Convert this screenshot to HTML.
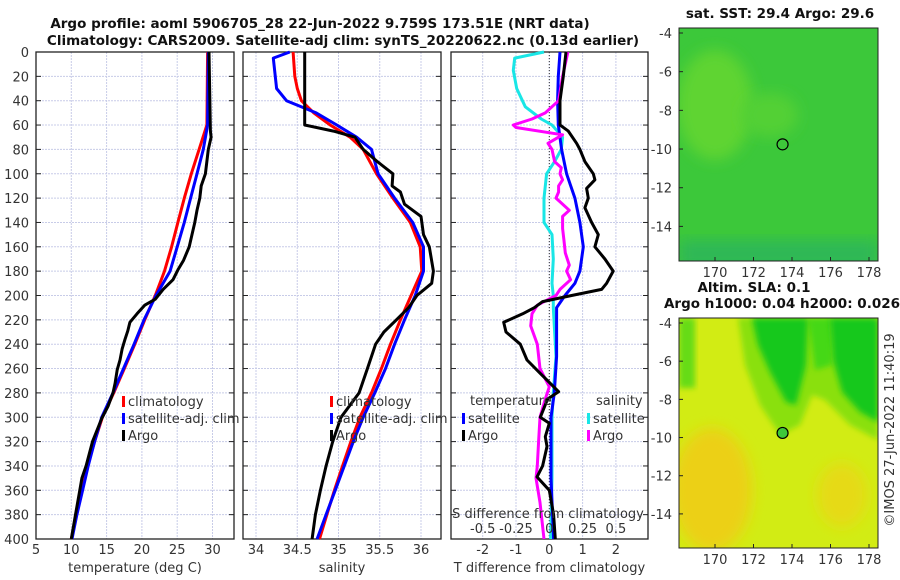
<!DOCTYPE html>
<html><head><meta charset="utf-8"><style>
body{margin:0;background:#fff;}
svg{display:block;font-family:"DejaVu Sans","Liberation Sans",sans-serif;}
.t{font-size:13px;fill:#333;}
.b{font-size:13.5px;font-weight:bold;fill:#111;}
</style></head><body>
<svg id="c" width="900" height="580" xmlns="http://www.w3.org/2000/svg">
<defs>
<filter id="bl" x="-20%" y="-20%" width="140%" height="140%"><feGaussianBlur stdDeviation="7"/></filter>
<filter id="bl2" x="-20%" y="-20%" width="140%" height="140%"><feGaussianBlur stdDeviation="3"/></filter>
<clipPath id="cTop"><rect x="679" y="28" width="199" height="233"/></clipPath>
<clipPath id="cBot"><rect x="679" y="318" width="199" height="230"/></clipPath>
</defs>
<text class="b" x="320" y="28" text-anchor="middle">Argo profile: aoml 5906705_28 22-Jun-2022 9.759S 173.51E (NRT data)</text>
<text class="b" x="343" y="45" text-anchor="middle">Climatology: CARS2009. Satellite-adj clim: synTS_20220622.nc (0.13d earlier)</text>
<g id="p1"></g>
<g id="p2"></g>
<g id="p3"></g>
<g clip-path="url(#cTop)">
  <rect x="679" y="28" width="199" height="233" fill="#3cc83a"/>
  <ellipse cx="715" cy="105" rx="38" ry="55" fill="#5ed432" filter="url(#bl)"/>
  <ellipse cx="770" cy="115" rx="28" ry="22" fill="#52d034" filter="url(#bl)"/>
  <rect x="679" y="240" width="199" height="28" fill="#2eb856" filter="url(#bl)"/>
</g>
<g clip-path="url(#cBot)">
  <rect x="679" y="318" width="199" height="230" fill="#d2ec14"/>
  <ellipse cx="712" cy="490" rx="40" ry="62" fill="#ecd016" filter="url(#bl)"/>
  <ellipse cx="842" cy="495" rx="25" ry="32" fill="#e6da16" filter="url(#bl)"/>
  <rect x="679" y="318" width="16" height="70" fill="#66dc14" filter="url(#bl2)"/>
  <polygon points="738,318 878,318 878,440 850,425 825,400 812,395 800,425 780,435 760,405 745,365" fill="#8ae010" filter="url(#bl2)"/>
  <polygon points="808,318 832,318 832,365 815,370" fill="#44d818" filter="url(#bl2)"/>
  <polygon points="752,318 808,318 806,365 796,405 786,402 770,372 758,345" fill="#12c81e" filter="url(#bl2)"/>
  <polygon points="830,318 878,318 878,422 860,412 842,392 833,360" fill="#12c81e" filter="url(#bl2)"/>
</g>
<g id="maps"></g>
<text class="t" transform="translate(894,430) rotate(-90)" text-anchor="middle">©IMOS 27-Jun-2022 11:40:19</text>
</svg>
<script>
// ---- data ----
const tClimDepth=[0,60,80,100,120,140,160,180,200,220,240,260,280,300,320,340,360,380,400];
const tClim=[29.3,29.2,28.1,27.0,26.0,25.1,24.2,23.2,21.9,20.4,19.0,17.5,16.0,14.4,13.3,12.3,11.5,10.7,10.0];
const tSat=[29.4,29.3,28.7,27.8,26.9,26.0,25.0,24.0,22.0,20.3,18.9,17.4,15.9,14.3,13.3,12.4,11.6,10.8,10.1];
const tArgoDepth=[0,65,70,80,100,110,120,130,140,150,160,171,179,187,195,203,208,215,222,229,236,244,253,261,272,280,291,301,320,340,350,360,380,400];
const tArgo=[29.5,29.7,29.8,29.4,29.0,28.4,28.2,27.8,27.5,27.1,26.7,25.9,25.1,24.4,23.0,21.9,20.4,19.3,18.3,18.0,17.6,17.2,16.9,16.5,16.2,15.9,15.2,14.3,13.0,12.1,11.5,11.2,10.6,10.0];
const sClimDepth=[0,20,30,40,50,60,70,80,100,120,140,160,180,200,220,240,260,280,300,320,340,360,380,400];
const sClim=[34.45,34.47,34.5,34.55,34.7,34.9,35.14,35.3,35.46,35.66,35.87,35.99,36.01,35.88,35.75,35.63,35.52,35.4,35.26,35.15,35.05,34.95,34.86,34.77];
const sSatDepth=[0,5,30,40,50,60,70,80,100,120,140,160,180,200,220,240,260,280,300,320,340,360,380,400];
const sSat=[34.41,34.21,34.25,34.37,34.73,34.98,35.22,35.4,35.48,35.68,35.9,36.03,36.03,35.93,35.8,35.68,35.57,35.44,35.3,35.18,35.07,34.96,34.85,34.74];
const sArgoDepth=[0,60,65,70,80,90,100,110,115,125,135,150,160,180,190,200,210,220,230,240,260,280,300,320,340,360,380,400];
const sArgo=[34.59,34.59,34.94,35.2,35.3,35.47,35.66,35.65,35.75,35.8,36.0,36.03,36.1,36.15,36.13,35.95,35.85,35.7,35.55,35.45,35.35,35.25,35.03,34.93,34.85,34.78,34.72,34.68];
const dTArgoDepth=[0,20,40,60,65,75,80,90,100,105,112,120,128,140,150,160,170,180,190,195,200,205,210,215,222,230,240,253,264,279,285,300,305,316,324,340,349,360,380,400];
const dTArgo=[0.5,0.42,0.32,0.32,0.57,0.82,0.92,1.07,1.32,1.37,1.12,1.17,1.07,1.27,1.47,1.37,1.67,1.92,1.72,1.57,0.67,-0.2,-0.45,-0.8,-1.37,-1.3,-0.87,-0.67,-0.27,0.28,-0.05,-0.27,0,-0.12,-0.07,-0.2,-0.37,0,0.13,0.18];
const dTSatDepth=[0,20,40,60,80,100,120,140,160,180,190,200,210,250,280,300,350,400];
const dTSat=[0.32,0.27,0.25,0.27,0.37,0.52,0.77,0.92,1.02,0.92,0.77,0.47,0.22,0.22,0.15,0.05,0.05,0.13];
const dSSatDepth=[0,5,15,30,45,55,60,70,80,90,100,120,140,150,170,190,200,210,250,280,300,350,400];
const dSSat=[-0.04,-0.26,-0.27,-0.245,-0.18,-0.06,0.02,0.1,0.09,0.04,-0.02,-0.04,-0.04,0.02,0.03,0.02,0.03,0.03,0.05,0.03,0.02,0.02,0.01];
const dSArgoDepth=[0,20,40,50,55,60,62,68,75,80,90,95,100,105,110,115,120,130,135,145,155,165,175,180,187,195,200,208,215,225,240,260,275,285,300,320,340,350,370,400];
const dSArgo=[0.14,0.1,0.07,-0.03,-0.13,-0.27,-0.25,0.1,-0.01,0.02,0.04,0.09,0.08,0.1,0.07,0.07,0.05,0.15,0.1,0.1,0.11,0.12,0.15,0.13,0.16,0.08,0.05,-0.09,-0.13,-0.14,-0.09,-0.07,0,-0.03,-0.07,-0.08,-0.09,-0.1,-0.07,-0.04];
const tTicks=[5,10,15,20,25,30];
const sTicks=[34,34.5,35,35.5,36];
const dTTicks=[-2,-1,0,1,2];
const dSTicks=[-0.5,-0.25,0,0.25,0.5];
const depthTicks=[0,20,40,60,80,100,120,140,160,180,200,220,240,260,280,300,320,340,360,380,400];
const lonTicks=[170,172,174,176,178];
const latTicks=[-4,-6,-8,-10,-12,-14];
const argoLon=173.51, argoLat=-9.759;

const NS='http://www.w3.org/2000/svg';
function el(tag,attrs,parent,txt){const e=document.createElementNS(NS,tag);for(const k in attrs)e.setAttribute(k,attrs[k]);if(txt!==undefined)e.textContent=txt;parent.appendChild(e);return e;}
const Y0=52,Y1=539;
const yD=d=>Y0+(d/400)*(Y1-Y0);
function lin(d0,d1,r0,r1){return v=>r0+(v-d0)/(d1-d0)*(r1-r0);}

function panel(g,x0,x1,xf,ticks,fmt,label,showY){
  depthTicks.forEach(d=>{const l=el('line',{x1:x0,x2:x1,y1:yD(d),y2:yD(d),stroke:'#c8cce8','stroke-width':1,'stroke-dasharray':'2,1'},g);
    
    const tk=el('line',{x1:x0,x2:x0+5,y1:yD(d),y2:yD(d),stroke:'#222'},g);
    const tk2=el('line',{x1:x1-5,x2:x1,y1:yD(d),y2:yD(d),stroke:'#222'},g);
    if(showY){const t=el('text',{class:'t',x:x0-7,y:yD(d)+5,'text-anchor':'end'},g,String(d));}
  });
  ticks.forEach(v=>{const x=xf(v);const l=el('line',{x1:x,x2:x,y1:Y0,y2:Y1,stroke:'#c8cce8','stroke-dasharray':'2,1'},g);
    
    if(fmt){const t=el('text',{class:'t',x:x,y:554,'text-anchor':'middle'},g,fmt(v));}
  });
  const r=el('rect',{x:x0,y:Y0,width:x1-x0,height:Y1-Y0,fill:'none',stroke:'#222','stroke-width':1.3},g);
  
  const t=el('text',{class:'t',x:(x0+x1)/2,y:572,'text-anchor':'middle'},g,label);
  
}
function line(g,xs,ds,xf,color,name,w){
  const pts=xs.map((v,i)=>xf(v).toFixed(1)+','+yD(ds[i]).toFixed(1)).join(' ');
  const p=el('polyline',{points:pts,fill:'none',stroke:color,'stroke-width':w||3,'stroke-linejoin':'round'},g);
  
}
function legend(g,x,y,items){
  items.forEach((it,i)=>{
    const m=el('rect',{x:x,y:y+i*17-9,width:3,height:11,fill:it[1]},g);
    const t=el('text',{class:'t',x:x+6,y:y+i*17+1},g,it[0]);
  });
}
// Panel 1
const p1=document.getElementById('p1');const xT=lin(5,30,36,212.5);
panel(p1,36,234,xT,tTicks,v=>String(v),'temperature (deg C)',true);
line(p1,tClim,tClimDepth,xT,'#f00','temp-climatology-line');
line(p1,tSat,tClimDepth,xT,'#00f','temp-satellite-line');
line(p1,tArgo,tArgoDepth,xT,'#000','temp-argo-line');
legend(p1,122,405,[['climatology','#f00'],['satellite-adj. clim','#00f'],['Argo','#000']]);
// Panel 2
const p2=document.getElementById('p2');const xS=lin(34,36,256,421);
panel(p2,243,441,xS,sTicks,v=>String(v),'salinity',false);
line(p2,sClim,sClimDepth,xS,'#f00','sal-climatology-line');
line(p2,sSat,sSatDepth,xS,'#00f','sal-satellite-line');
line(p2,sArgo,sArgoDepth,xS,'#000','sal-argo-line');
legend(p2,330,405,[['climatology','#f00'],['satellite-adj. clim','#00f'],['Argo','#000']]);
// Panel 3
const p3=document.getElementById('p3');const xDT=lin(0,1,549.3,582.6);const xDS=lin(0,0.25,549.3,582.6);
panel(p3,451,648,xDT,dTTicks,v=>String(v),'T difference from climatology',false);
const z=el('line',{x1:549.3,x2:549.3,y1:Y0,y2:Y1,stroke:'#333','stroke-dasharray':'1,2'},p3);
line(p3,dSSat,dSSatDepth,xDS,'#19e6e6','sal-diff-satellite-line');
line(p3,dTSat,dTSatDepth,xDT,'#00f','temp-diff-satellite-line');
line(p3,dSArgo,dSArgoDepth,xDS,'#f0f','sal-diff-argo-line');
line(p3,dTArgo,dTArgoDepth,xDT,'#000','temp-diff-argo-line');
dSTicks.forEach(v=>{const t=el('text',{class:'t',x:xDS(v),y:533,'text-anchor':'middle'},p3,String(v));});
const st=el('text',{class:'t',x:548,y:518,'text-anchor':'middle'},p3,'S difference from climatology');
const h1=el('text',{class:'t',x:470,y:405},p3,'temperature');
const h2=el('text',{class:'t',x:596,y:405},p3,'salinity');
legend(p3,462,422,[['satellite','#00f'],['Argo','#000']]);
legend(p3,587,422,[['satellite','#19e6e6'],['Argo','#f0f']]);
// Maps
const mg=document.getElementById('maps');
const xLon=lin(170,178,715,869);
function map(y0,y1,title,name){
  const yLat=lin(-4,-14,y0+5,y0+5+(y1-y0)*0.83);
  const g=el('g',{},mg);
  const f=el('rect',{x:679,y:y0,width:199,height:y1-y0,fill:'none',stroke:'#222'},g);
  lonTicks.forEach(v=>{const t=el('text',{class:'t',x:xLon(v),y:y1+16,'text-anchor':'middle'},g,String(v));
    const k=el('line',{x1:xLon(v),x2:xLon(v),y1:y1,y2:y1-4,stroke:'#222'},g);});
  latTicks.forEach(v=>{const t=el('text',{class:'t',x:672,y:yLat(v)+5,'text-anchor':'end'},g,String(v));
    const k=el('line',{x1:679,x2:683,y1:yLat(v),y2:yLat(v),stroke:'#222'},g);});
  const c=el('circle',{cx:xLon(argoLon),cy:yLat(argoLat),r:5.5,fill:'#3ec83a',stroke:'#000','stroke-width':1.2},g);
  
  title.forEach((s,i)=>{const t=el('text',{class:'b',x:s[1],y:y0-10-(title.length-1-i)*16,'text-anchor':'middle'},g,s[0]);});
}
map(28,261,[['sat. SST: 29.4 Argo: 29.6',780]],'sst-map');
map(318,548,[['Altim. SLA: 0.1',754],['Argo h1000: 0.04 h2000: 0.026',782]],'sla-map');
</script>
</body></html>
